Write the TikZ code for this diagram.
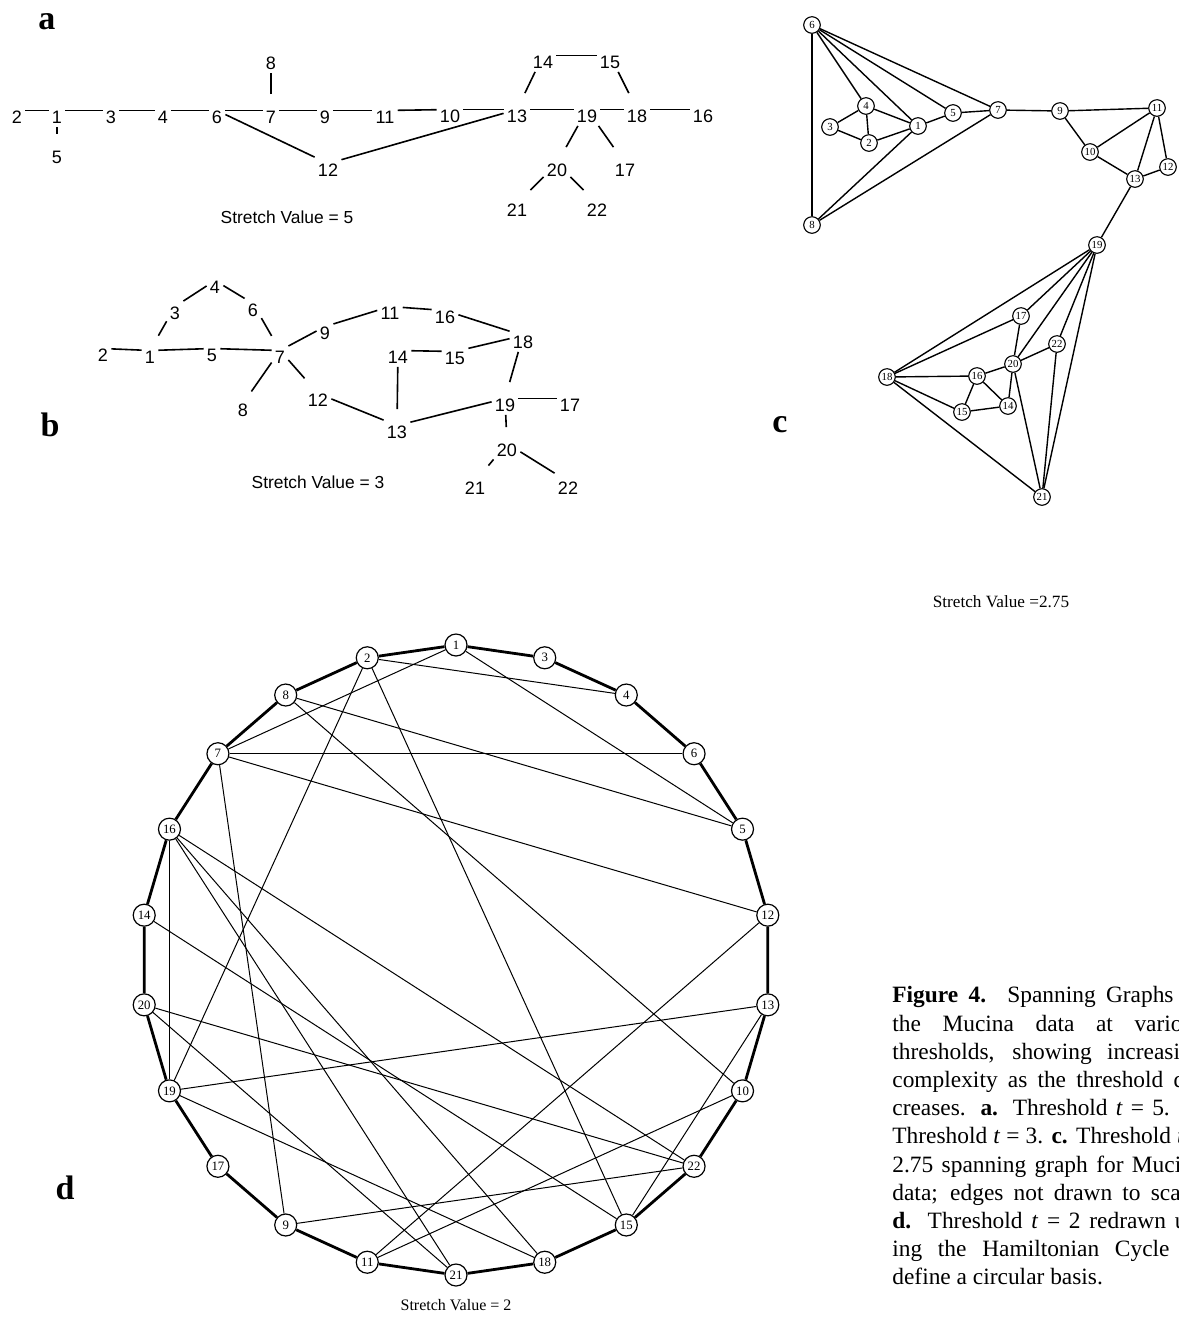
\documentclass[tikz,border=0pt]{standalone}
\usepackage{fontspec}
\setmainfont{Liberation Serif}
\newfontfamily\arialf{Liberation Sans}
\usepackage{tikz}
\tikzset{
  lab/.style={font=\arialf\fontsize{9}{9}\selectfont,text height=13pt,text depth=0pt,inner sep=1.5pt,yshift=3.25pt},
  ln/.style={line width=0.8pt},
  cn/.style={circle,draw,line width=0.55pt,minimum size=8.3pt,inner sep=0pt,font=\fontsize{5.4}{5.4}\selectfont},
  ce/.style={line width=0.7pt},
  dn/.style={circle,draw,line width=0.6pt,minimum size=11pt,inner sep=0pt,font=\fontsize{6.4}{6.4}\selectfont},
  cyc/.style={line width=1.4pt},
  chd/.style={line width=0.5pt},
  pl/.style={font=\bfseries\fontsize{17}{17}\selectfont},
  sv/.style={font=\arialf\fontsize{8.7}{9}\selectfont},
  svs/.style={font=\fontsize{8.6}{9}\selectfont}
}

\begin{document}
\begin{tikzpicture}[x=0.5pt,y=-0.5pt]
\useasboundingbox (0,0) rectangle (1179,1319);
\node[pl] at (47,22) {a};
\node[pl] at (50,425) {b};
\node[pl] at (780,425) {c};
\node[pl] at (65,1188) {d};
\foreach \n/\x/\y in {1/57/117,2/17/117,3/111/117,4/163/117,5/57/157,6/217/117,7/271/117,8/271/63,
  9/325/117,10/450/116,11/385/117,12/328/170,13/517/116,14/543/62,15/610/62,16/703/116,
  17/625/170,18/637/116,19/587/116,20/557/170,21/517/210,22/597/210}
  \node[lab] (a\n) at (\x,\y) {\n};
\foreach \u/\v in {2/1,1/5,1/3,3/4,4/6,6/7,7/8,7/9,9/11,11/10,10/13,6/12,12/13,13/14,14/15,
  15/18,13/19,19/18,18/16,19/20,19/17,20/21,20/22}
  \draw[ln] (a\u)--(a\v);
\node[sv] at (287,217) {Stretch Value = 5};
\foreach \n/\x/\y in {1/150/357,2/103/355,3/175/313,4/215/287,5/212/355,6/253/310,7/280/357,
  8/243/410,9/325/333,11/390/313,12/318/400,13/397/432,14/398/357,15/455/358,16/445/317,
  17/570/405,18/523/342,19/505/405,20/507/450,21/475/488,22/568/488}
  \node[lab] (b\n) at (\x,\y) {\n};
\foreach \u/\v in {2/1,1/3,3/4,4/6,6/7,1/5,5/7,7/8,7/9,7/12,9/11,11/16,16/18,14/15,15/18,
  14/13,12/13,13/19,18/19,19/17,19/20,20/21,20/22}
  \draw[ln] (b\u)--(b\v);
\node[sv] at (318,482) {Stretch Value = 3};
\foreach \n/\x/\y in {1/918/126,2/869/143,3/830/127,4/866/106,5/953/113,6/812/25,7/998/110,
  8/812/225,9/1060/111,10/1090/152,11/1157/108,12/1168/167,13/1135/179,14/1008/406,
  15/962/412,16/977/376,17/1021/316,18/887/377,19/1097/245,20/1013/364,21/1042/497,22/1057/344}
  \node[cn] (c\n) at (\x,\y) {\n};
\foreach \u/\v in {6/8,6/4,6/1,6/5,6/7,4/3,4/2,4/1,3/2,2/1,1/5,5/7,1/8,7/8,7/9,9/11,9/10,
  10/11,10/13,11/13,11/12,12/13,13/19,19/18,19/17,19/20,19/22,19/21,18/17,18/16,18/15,
  18/21,17/20,16/20,16/15,16/14,15/14,14/20,20/22,20/21,22/21}
  \draw[ce] (c\u)--(c\v);
\node[svs] at (1001,602) {Stretch Value =2.75};
\foreach \n [count=\i from 0] in {1,3,4,6,5,12,13,10,22,15,18,21,11,9,17,19,20,14,16,7,8,2}
  \node[dn] (d\n) at ({456+315*sin(\i*360/22)},{960-315*cos(\i*360/22)}) {\n};
\foreach \u/\v in {1/3,3/4,4/6,6/5,5/12,12/13,13/10,10/22,22/15,15/18,18/21,21/11,11/9,
  9/17,17/19,19/20,20/14,14/16,16/7,7/8,8/2,2/1}
  \draw[cyc] (d\u)--(d\v);
\foreach \u/\v in {1/7,1/5,2/4,2/19,2/15,8/5,8/10,7/6,7/12,7/9,16/19,16/21,16/18,16/22,
  14/15,20/22,20/21,19/13,19/18,9/22,11/10,11/12,13/15}
  \draw[chd] (d\u)--(d\v);
\node[svs,font=\fontsize{8}{9}\selectfont] at (456,1305) {Stretch Value = 2};
\node[anchor=north west,inner sep=0pt,align=left,font=\fontsize{11.7}{14.1}\selectfont] (cap) at (892,986) {%
  \makebox[155.5pt][s]{\textbf{Figure 4.} Spanning Graphs of}\\
  \makebox[155.5pt][s]{the Mucina data at various}\\
  \makebox[155.5pt][s]{thresholds, showing increasing}\\
  \makebox[155.5pt][s]{complexity as the threshold de-}\\
  \makebox[155.5pt][s]{creases. \textbf{a.} Threshold \textit{t} = 5. \textbf{b.}}\\
  \makebox[155.5pt][s]{Threshold \textit{t} = 3. \textbf{c.} Threshold \textit{t} =}\\
  \makebox[155.5pt][s]{2.75 spanning graph for Mucina}\\
  \makebox[155.5pt][s]{data; edges not drawn to scale.}\\
  \makebox[155.5pt][s]{\textbf{d.} Threshold \textit{t} = 2 redrawn us-}\\
  \makebox[155.5pt][s]{ing the Hamiltonian Cycle to}\\
  define a circular basis.};
\end{tikzpicture}
\end{document}
